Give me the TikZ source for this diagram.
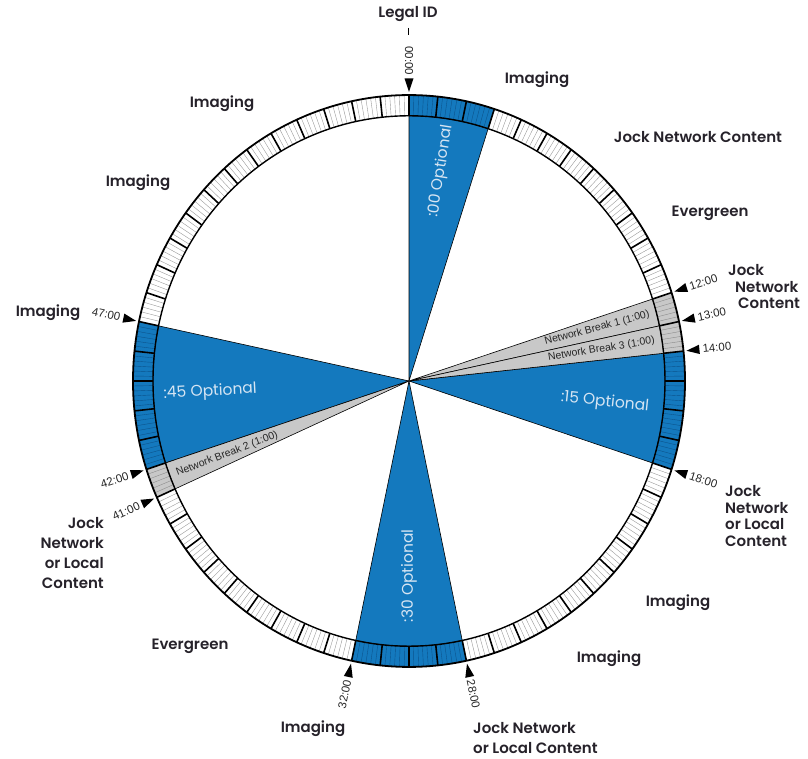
\documentclass[tikz,border=0pt]{standalone}
\usepackage{fontspec}
\setmainfont{Liberation Sans}
\newfontfamily\headfont{Poppins}
\newfontfamily\namefont{Poppins SemiBold}
\usetikzlibrary{arrows.meta,positioning}

\definecolor{optblue}{RGB}{20,121,190}
\definecolor{tickblue}{RGB}{12,84,140}
\definecolor{breakgray}{RGB}{200,200,200}
\definecolor{labelink}{RGB}{38,34,42}
\definecolor{opttext}{RGB}{214,229,243}

\begin{document}
\begin{tikzpicture}[x=1pt, y=1pt,
    segname/.style={font=\namefont\fontsize{15}{16.5}\selectfont, text=labelink, inner sep=0pt},
    optlabel/.style={font=\headfont\fontsize{15.5}{17}\selectfont, text=opttext, inner sep=0pt},
    breaklabel/.style={font=\fontsize{10.5}{11}\selectfont, text=black!85, inner sep=0pt},
    timelabel/.style={font=\fontsize{11.5}{12}\selectfont, text=black!85, inner sep=0pt},
    timetip/.style={fill=black}
  ]
  \useasboundingbox (-409,-378) rectangle (399,381);

  \begin{scope}[yscale=1.036]
    % wedges from the centre
    \foreach \a/\b/\c in {0/3/optblue, 14/18/optblue, 28/32/optblue, 42/47/optblue,
                          12/13/breakgray, 13/14/breakgray, 41/42/breakgray}
      \filldraw[fill=\c, draw=black, line width=0.6pt] (0,0) -- ({90-6*\a}:256)
        arc[start angle={90-6*\a}, end angle={90-6*\b}, radius=256] -- cycle;

    % ring: one thin tick every 10 seconds
    \foreach \k in {0,...,359}
      \draw[black!40, line width=0.4pt] ({90-\k}:256) -- ({90-\k}:276);
    \foreach \a/\b/\c/\t in {0/3/optblue/tickblue, 14/18/optblue/tickblue, 28/32/optblue/tickblue,
                             42/47/optblue/tickblue, 12/14/breakgray/black!45, 41/42/breakgray/black!45} {
      \fill[\c] ({90-6*\a}:256) arc[start angle={90-6*\a}, end angle={90-6*\b}, radius=256]
        -- ({90-6*\b}:276) arc[start angle={90-6*\b}, end angle={90-6*\a}, radius=276] -- cycle;
      \pgfmathtruncatemacro\first{6*\a}
      \pgfmathtruncatemacro\last{6*\b}
      \foreach \k in {\first,...,\last}
        \draw[\t, line width=0.4pt] ({90-\k}:256) -- ({90-\k}:276);
    }
    % minute dividers
    \foreach \m in {0,...,59}
      \draw[line width=1.6pt] ({90-6*\m}:256) -- ({90-6*\m}:276);
    \draw[line width=1.8pt] (0,0) circle[radius=276];
    \draw[line width=1.4pt] (0,0) circle[radius=256];

    % time marks
    \foreach \m/\txt in {12/12:00, 13/13:00, 14/14:00, 18/18:00, 28/28:00} {
      \fill[timetip, rotate={90-6*\m}] (279,0) -- (292,4.5) -- (292,-4.5) -- cycle;
      \node[timelabel, anchor=west, rotate={90-6*\m}] (t\m) at ({90-6*\m}:295) {\txt};
    }
    \foreach \m/\txt in {0/00:00, 32/32:00, 41/41:00, 42/42:00, 47/47:00} {
      \fill[timetip, rotate={90-6*\m}] (279,0) -- (292,4.5) -- (292,-4.5) -- cycle;
      \node[timelabel, anchor=east, rotate={270-6*\m}] (t\m) at ({90-6*\m}:295) {\txt};
    }

    % wedge labels
    \node[optlabel, rotate=81] (opt00) at (81:205) {:00 Optional};
    \node[optlabel, rotate=-6] (opt15) at (-6:197) {:15 Optional};
    \node[optlabel, rotate=90] (opt30) at (-90:188) {:30 Optional};
    \node[optlabel, rotate=3] (opt45) at (-177:199) {:45 Optional};
    \node[breaklabel, anchor=east, rotate=15] (nb1) at (15:249) {Network Break 1 (1:00)};
    \node[breaklabel, anchor=east, rotate=9] (nb3) at (9:249) {Network Break 3 (1:00)};
    \node[breaklabel, anchor=west, rotate=21] (nb2) at (-159:249) {Network Break 2 (1:00)};
  \end{scope}

  % segment names round the clock
  \node[segname] (legal) at (-1,367) {Legal ID};
  \coordinate (dashtop) at (-1,353);
  \coordinate (dashbot) at (-1,346);
  \draw[line width=0.8pt] (dashtop) -- (dashbot);
  \node[segname] (img1) at (128,301) {Imaging};
  \node[segname] (jnc) at (289,244) {Jock Network Content};
  \node[segname] (ever1) at (301,168) {Evergreen};
  \node[segname, anchor=west, align=left] (jnc2) at (319,94)
    {Jock\\\hspace*{7pt}Network\\\hspace*{10pt}Content};
  \node[segname, anchor=west, align=left] (jnl1) at (316,-135)
    {Jock\\Network\\or Local\\Content};
  \node[segname] (img2) at (269,-222) {Imaging};
  \node[segname] (img3) at (200,-278) {Imaging};
  \node[segname, anchor=west, align=left, font=\namefont\fontsize{15}{19.5}\selectfont] (jnl2) at (64,-357)
    {Jock Network\\or Local Content};
  \node[segname] (img4) at (-96,-348) {Imaging};
  \node[segname] (ever2) at (-219,-265) {Evergreen};
  \node[segname, anchor=east, align=right, font=\namefont\fontsize{15}{20}\selectfont] (jnl3) at (-305,-172)
    {Jock\\Network\\or Local\\Content};
  \node[segname] (img5) at (-361,68) {Imaging};
  \node[segname] (img6) at (-271,198) {Imaging};
  \node[segname] (img7) at (-187,277) {Imaging};
\end{tikzpicture}
\end{document}
